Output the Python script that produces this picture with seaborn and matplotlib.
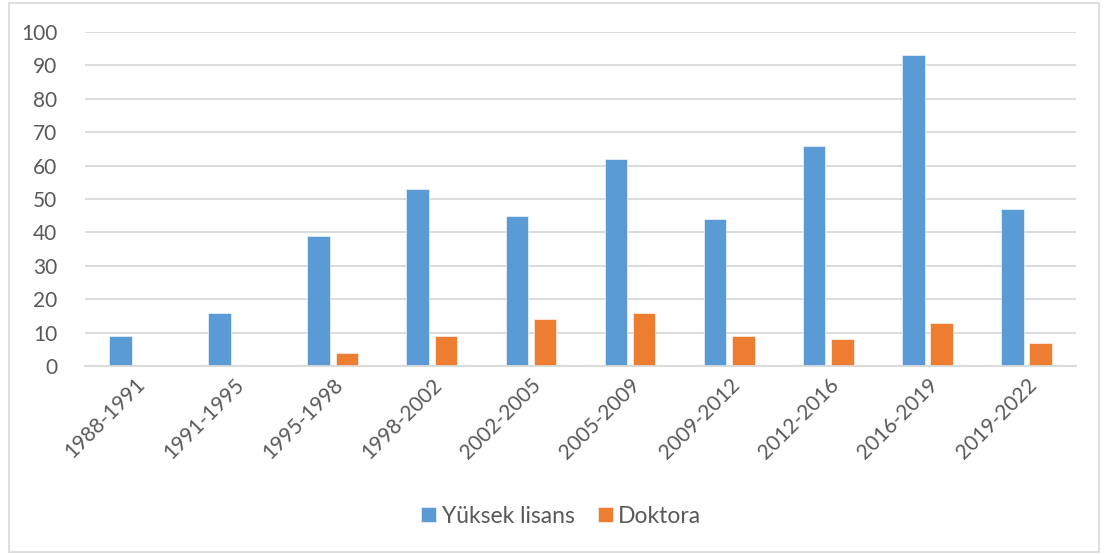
import matplotlib
matplotlib.use("Agg")
import matplotlib.pyplot as plt
from matplotlib.patches import Rectangle
import seaborn as sns
import pandas as pd

periods = ["1988-1991", "1991-1995", "1995-1998", "1998-2002", "2002-2005",
           "2005-2009", "2009-2012", "2012-2016", "2016-2019", "2019-2022"]
yuksek_lisans = [9, 16, 39, 53, 45, 62, 44, 66, 93, 47]
doktora = [0, 0, 4, 9, 14, 16, 9, 8, 13, 7]
series_names = ["Yüksek lisans", "Doktora"]
y_ticks = [0, 10, 20, 30, 40, 50, 60, 70, 80, 90, 100]

df = pd.DataFrame({
    "period": periods * 2,
    "value": yuksek_lisans + doktora,
    "series": [series_names[0]] * len(periods) + [series_names[1]] * len(periods),
})

sns.set_theme(style="white")
plt.rcParams["font.family"] = ["Lato", "DejaVu Sans"]
text_color = "#595959"
grid_color = "#D9D9D9"

fig = plt.figure(figsize=(11.05, 5.54), dpi=100)
ax = fig.add_axes([0.0769, 0.3394, 0.8969, 0.6028])

sns.barplot(data=df, x="period", y="value", hue="series", order=periods,
            hue_order=series_names, palette=["#5B9BD5", "#ED7D31"],
            width=0.57, gap=0.2, ax=ax, saturation=1, legend=True,
            edgecolor="white", linewidth=0.4)

ax.set_ylim(0, 100)
ax.set_yticks(y_ticks)
ax.set_xlim(-0.5, len(periods) - 0.5)
ax.yaxis.grid(True, color=grid_color, linewidth=1.3)
ax.set_axisbelow(True)
for s in ["top", "right", "left"]:
    ax.spines[s].set_visible(False)
ax.spines["bottom"].set_color(grid_color)
ax.spines["bottom"].set_linewidth(1.3)
ax.set_xlabel("")
ax.set_ylabel("")
ax.tick_params(axis="both", length=0, colors=text_color, labelsize=15)
ax.tick_params(axis="y", pad=20)
ax.tick_params(axis="x", pad=6)
plt.setp(ax.get_xticklabels(), rotation=45, ha="right", rotation_mode="anchor")

handles, labels = ax.get_legend_handles_labels()
ax.legend_.remove()
fig.legend(handles, labels, loc="center", bbox_to_anchor=(0.508, 0.068),
           ncol=2, frameon=False, fontsize=16.5, labelcolor=text_color,
           handlelength=0.65, handleheight=0.65, handletextpad=0.25,
           columnspacing=1.0)

fig.patches.append(Rectangle((0.008, 0.004), 0.987, 0.99, transform=fig.transFigure,
                             fill=False, edgecolor="#D9D9D9", linewidth=1.2))

fig.savefig("out.png", dpi=100, facecolor="white")
